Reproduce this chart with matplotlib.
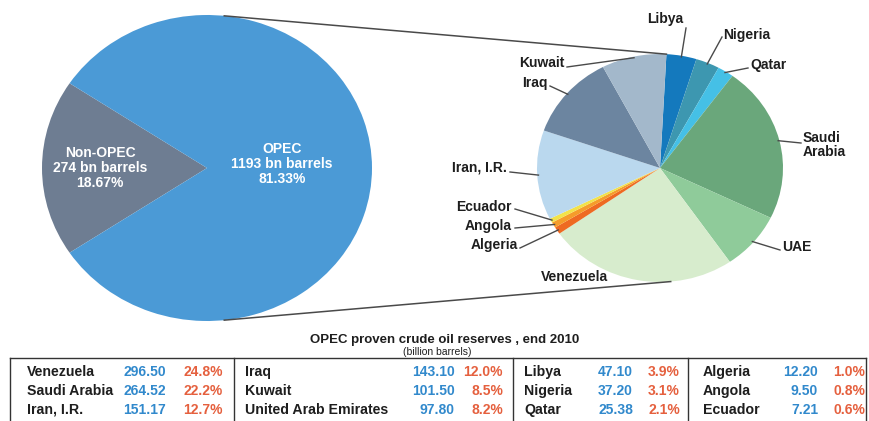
import numpy as np
import matplotlib
matplotlib.use("Agg")
import matplotlib.pyplot as plt

plt.rcParams['font.family'] = ['Liberation Sans', 'DejaVu Sans']

# ---------------- data ----------------
split_labels = ["Non-OPEC", "OPEC"]
split_values = [274, 1193]
split_pct = ["18.67%", "81.33%"]

pie_labels = ["Libya", "Nigeria", "Qatar", "Saudi\nArabia", "UAE", "Venezuela",
              "Algeria", "Angola", "Ecuador", "Iran, I.R.", "Iraq", "Kuwait"]
pie_values = [47.10, 37.20, 25.38, 264.52, 97.80, 296.50,
              12.20, 9.50, 7.21, 151.17, 143.10, 101.50]

table_names = ["Venezuela", "Saudi Arabia", "Iran, I.R.",
               "Iraq", "Kuwait", "United Arab Emirates",
               "Libya", "Nigeria", "Qatar",
               "Algeria", "Angola", "Ecuador"]
table_values = [296.50, 264.52, 151.17, 143.10, 101.50, 97.80,
                47.10, 37.20, 25.38, 12.20, 9.50, 7.21]
table_pcts = ["24.8%", "22.2%", "12.7%", "12.0%", "8.5%", "8.2%",
              "3.9%", "3.1%", "2.1%", "1.0%", "0.8%", "0.6%"]

title = "OPEC proven crude oil reserves , end 2010"
subtitle = "(billion barrels)"

# ---------------- styles / layout ----------------
W, H = 869, 421
split_colors = ["#6e7d92", "#4b9ad6"]
pie_colors = ["#1479bd", "#3d97b0", "#45c0e6", "#6aa77b", "#8fcb9a", "#d7eccd",
              "#ee6a22", "#f59c2a", "#f2e24a", "#bad8ee", "#6c85a0", "#a3b8cb"]
val_color = "#3189cc"
pct_color = "#e5603e"
txt_color = "#1e1e1e"
line_color = "#4a4a4a"

L_cx, L_cy, L_rx, L_ry = 207, 168, 165, 153
R_cx, R_cy, R_rx, R_ry = 660, 168, 123, 114
R_start = 87

fig = plt.figure(figsize=(W / 100, H / 100), dpi=100)


def pie_axes(cx, cy, rx, ry):
    return fig.add_axes([(cx - rx) / W, (H - cy - ry) / H, 2 * rx / W, 2 * ry / H])


# left pie
axL = pie_axes(L_cx, L_cy, L_rx, L_ry)
frac0 = split_values[0] / sum(split_values) * 360
axL.pie(split_values, colors=split_colors, startangle=180 - frac0 / 2,
        counterclock=True, wedgeprops=dict(linewidth=0))
axL.set_aspect('auto')
axL.set_xlim(-1, 1)
axL.set_ylim(-1, 1)
axL.axis('off')

# right pie
axR = pie_axes(R_cx, R_cy, R_rx, R_ry)
axR.pie(pie_values, colors=pie_colors, startangle=R_start, counterclock=False,
        wedgeprops=dict(linewidth=0))
axR.set_aspect('auto')
axR.set_xlim(-1, 1)
axR.set_ylim(-1, 1)
axR.axis('off')

# overlay in pixel coordinates
ov = fig.add_axes([0, 0, 1, 1], zorder=5)
ov.set_xlim(0, W)
ov.set_ylim(H, 0)
ov.axis('off')
ov.patch.set_alpha(0)


def ppt(cx, cy, rx, ry, ang, r=1.0):
    a = np.deg2rad(ang)
    return cx + r * rx * np.cos(a), cy - r * ry * np.sin(a)


# left pie texts
ov.text(100, 168, "{}\n{} bn barrels\n{}".format(split_labels[0], split_values[0], split_pct[0]),
        ha='center', va='center', color='white', fontsize=10, fontweight='bold',
        linespacing=1.05)
ov.text(282, 164, "{}\n{} bn barrels\n{}".format(split_labels[1], split_values[1], split_pct[1]),
        ha='center', va='center', color='white', fontsize=10, fontweight='bold',
        linespacing=1.05)

# connecting lines (left pie top/bottom -> right pie top/bottom)
for la, ra in [(84, R_start), (-84, -85)]:
    x1, y1 = ppt(L_cx, L_cy, L_rx, L_ry, la)
    x2, y2 = ppt(R_cx, R_cy, R_rx, R_ry, ra)
    ov.plot([x1, x2], [y1, y2], color=line_color, lw=1.1)

# right pie labels: (text x, text y, ha, leader start x, leader start y)
label_layout = {
    "Libya": (665, 19, 'center', 686, 28),
    "Nigeria": (723, 35, 'left', 722, 37),
    "Qatar": (750, 65, 'left', 748, 68),
    "Saudi\nArabia": (803, 145, 'left', 801, 143),
    "UAE": (782, 247, 'left', 780, 250),
    "Venezuela": (574, 277, 'center', None, None),
    "Algeria": (518, 245, 'right', 520, 248),
    "Angola": (512, 226, 'right', 515, 228),
    "Ecuador": (512, 207, 'right', 515, 209),
    "Iran, I.R.": (507, 168, 'right', 510, 172),
    "Iraq": (548, 83, 'right', 550, 86),
    "Kuwait": (565, 63, 'right', 567, 67),
}

total = sum(pie_values)
cum = 0.0
for lab, v in zip(pie_labels, pie_values):
    mid = R_start - (cum + v / 2) / total * 360
    cum += v
    tx, ty, ha, lx, ly = label_layout[lab]
    ov.text(tx, ty, lab, ha=ha, va='center', fontsize=10, fontweight='bold',
            color=txt_color, linespacing=0.95)
    if lx is not None:
        ex, ey = ppt(R_cx, R_cy, R_rx, R_ry, mid, 0.99)
        ov.plot([lx, ex], [ly, ey], color=line_color, lw=1.0)

# table title
ov.text(445, 340, title, ha='center', va='center', fontsize=9.5, fontweight='bold', color=txt_color)
ov.text(437, 352, subtitle, ha='center', va='center', fontsize=7.5, color=txt_color)

# table frame (bottom edge lies at the picture's border)
fc = '#333333'
ov.plot([10, 866], [358, 358], color=fc, lw=1.0)
for xv in [10, 234, 513, 688, 866]:
    ov.plot([xv, xv], [358, 421], color=fc, lw=1.0)

# table content
name_x = [27, 245, 524, 703]
val_x = [166, 455, 633, 818]
pct_x = [223, 503, 680, 865]
row_y = [372, 391, 410]
for i, (n, v, p) in enumerate(zip(table_names, table_values, table_pcts)):
    g, r = divmod(i, 3)
    y = row_y[r]
    ov.text(name_x[g], y, n, ha='left', va='center', fontsize=10.2, fontweight='bold', color=txt_color)
    ov.text(val_x[g], y, "{:.2f}".format(v), ha='right', va='center', fontsize=10,
            fontweight='bold', color=val_color)
    ov.text(pct_x[g], y, p, ha='right', va='center', fontsize=10, fontweight='bold', color=pct_color)

fig.savefig("out.png", dpi=100, facecolor='white')
